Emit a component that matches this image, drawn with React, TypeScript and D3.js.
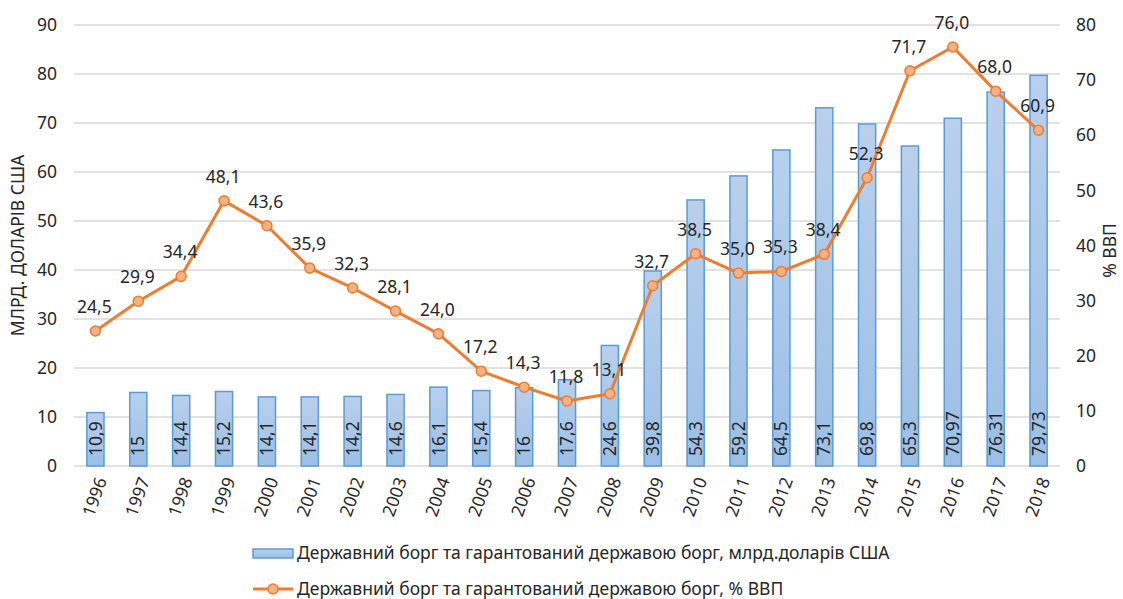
import React from "react";
import * as d3 from "d3";

const years = ["1996","1997","1998","1999","2000","2001","2002","2003","2004","2005","2006","2007","2008","2009","2010","2011","2012","2013","2014","2015","2016","2017","2018"];
const debtUsd = [10.9,15,14.4,15.2,14.1,14.1,14.2,14.6,16.1,15.4,16,17.6,24.6,39.8,54.3,59.2,64.5,73.1,69.8,65.3,70.97,76.31,79.73];
const debtUsdLabels = ["10,9","15","14,4","15,2","14,1","14,1","14,2","14,6","16,1","15,4","16","17,6","24,6","39,8","54,3","59,2","64,5","73,1","69,8","65,3","70,97","76,31","79,73"];
const debtGdp = [24.5,29.9,34.4,48.1,43.6,35.9,32.3,28.1,24.0,17.2,14.3,11.8,13.1,32.7,38.5,35.0,35.3,38.4,52.3,71.7,76.0,68.0,60.9];
const leftTicks = [0,10,20,30,40,50,60,70,80,90];
const rightTicks = [0,10,20,30,40,50,60,70,80];
const leftTitle = "МЛРД. ДОЛАРІВ США";
const rightTitle = "% ВВП";
const legendBar = "Державний борг та гарантований державою борг, млрд.доларів США";
const legendLine = "Державний борг та гарантований державою борг, % ВВП";

const FONT = "'Noto Sans', sans-serif";
const TXT = "#262626";
const FS = 17.5;

export default function App() {
  const W = 1123, H = 599;
  const x0 = 74, x1 = 1060, yTop = 25, yBot = 466;
  const x = d3.scaleBand<string>().domain(years).range([x0, x1]).paddingInner(0.6).paddingOuter(0.3);
  const yL = d3.scaleLinear().domain([0, 90]).range([yBot, yTop]);
  const yR = d3.scaleLinear().domain([0, 80]).range([yBot, yTop]);
  const cx = (d: string) => (x(d) as number) + x.bandwidth() / 2;
  const line = d3.line<number>().x((_, i) => cx(years[i])).y(v => yR(v));

  return (
    <svg width={W} height={H} style={{ position: "absolute", left: 0, top: 0, fontFamily: FONT }}>
      <defs>
        <linearGradient id="barGrad" x1="0" y1="0" x2="0" y2="1">
          <stop offset="0" stopColor="#b9d0ec" />
          <stop offset="1" stopColor="#9bbfe6" />
        </linearGradient>
      </defs>
      <rect width={W} height={H} fill="#fff" />
      {leftTicks.map(t => (
        <g key={"g" + t}>
          <line x1={x0} x2={x1} y1={yL(t)} y2={yL(t)} stroke="#d9d9d9" strokeWidth={1.5} />
          <text x={57} y={yL(t)} dy="0.35em" textAnchor="end" fontSize={FS} fill={TXT}>{t}</text>
        </g>
      ))}
      {rightTicks.map(t => (
        <text key={"r" + t} x={1076} y={yR(t)} dy="0.35em" textAnchor="start" fontSize={FS} fill={TXT}>{t}</text>
      ))}
      <text transform={`translate(24,${(yTop + yBot) / 2}) rotate(-90)`} textAnchor="middle" fontSize={FS} fill={TXT}>{leftTitle}</text>
      <text transform={`translate(1116,${(yTop + yBot) / 2 + 5}) rotate(-90)`} textAnchor="middle" fontSize={FS} fill={TXT}>{rightTitle}</text>
      {years.map((yr, i) => (
        <rect key={"b" + yr} x={x(yr)} y={yL(debtUsd[i])} width={x.bandwidth()} height={yBot - yL(debtUsd[i])}
          fill="url(#barGrad)" stroke="#5b9bd5" strokeWidth={1.5} />
      ))}
      {years.map((yr, i) => (
        <text key={"bl" + yr} transform={`translate(${cx(yr)},${yBot - 10}) rotate(-90)`} dy="0.35em" textAnchor="start" fontSize={FS} fill={TXT}>{debtUsdLabels[i]}</text>
      ))}
      {years.map(yr => (
        <text key={"x" + yr} transform={`translate(${cx(yr) + 6},${yBot + 12}) rotate(-70)`} textAnchor="end" dy="0.35em" fontSize={FS} fill={TXT}>{yr}</text>
      ))}
      <path d={line(debtGdp) || ""} fill="none" stroke="#ed7d31" strokeWidth={3} strokeLinejoin="round" />
      {years.map((yr, i) => (
        <circle key={"c" + yr} cx={cx(yr)} cy={yR(debtGdp[i])} r={5} fill="#f4b183" stroke="#ed7d31" strokeWidth={1.5} />
      ))}
      {years.map((yr, i) => (
        <text key={"ll" + yr} x={cx(yr) - 1} y={yR(debtGdp[i]) - 18} textAnchor="middle" fontSize={FS} fill={TXT}>{debtGdp[i].toFixed(1).replace(".", ",")}</text>
      ))}
      <rect x={253} y={549} width={40} height={9} fill="url(#barGrad)" stroke="#5b9bd5" strokeWidth={1.5} />
      <text x={297} y={553} dy="0.35em" fontSize={FS} fill={TXT}>{legendBar}</text>
      <line x1={253} x2={293} y1={589} y2={589} stroke="#ed7d31" strokeWidth={3} />
      <circle cx={273} cy={589} r={5} fill="#f4b183" stroke="#ed7d31" strokeWidth={1.5} />
      <text x={297} y={589} dy="0.35em" fontSize={FS} fill={TXT}>{legendLine}</text>
    </svg>
  );
}
